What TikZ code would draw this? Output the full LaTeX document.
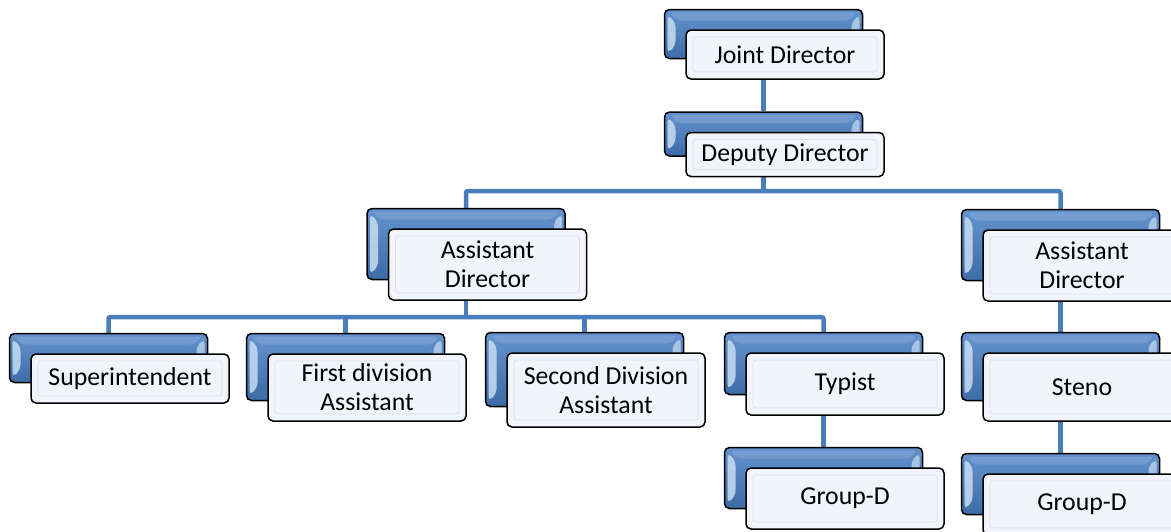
\documentclass[tikz,border=0pt]{standalone}
\usepackage{fontspec}
\setmainfont{Carlito}
\usetikzlibrary{calc}
\definecolor{linkblue}{HTML}{4A7EBB}
\definecolor{boxtop}{HTML}{6593CE}
\definecolor{boxbot}{HTML}{3C6BA6}
\definecolor{bevel}{HTML}{C9DCF2}
\definecolor{frontfill}{HTML}{F1F4FA}
\definecolor{frontline}{HTML}{DCE2EC}
\pgfdeclarelayer{bg}
\pgfdeclarelayer{lines}
\pgfsetlayers{bg,lines,main}
\tikzset{
  conn/.style={draw=linkblue, line width=4.5pt, rounded corners=2pt},
  backbox/.style={rounded corners=5pt, minimum width=198pt, line width=1.5pt,
    draw=black, top color=boxtop, bottom color=boxbot, inner sep=0pt,
    path picture={
      \fill[bevel, opacity=0.85]
        ($(path picture bounding box.north west)+(3pt,-5pt)$) --
        ($(path picture bounding box.north west)+(11pt,-13pt)$) --
        ($(path picture bounding box.south west)+(11pt,13pt)$) --
        ($(path picture bounding box.south west)+(3pt,5pt)$) -- cycle;
      \fill[bevel, opacity=0.7]
        ($(path picture bounding box.north east)+(-3pt,-5pt)$) --
        ($(path picture bounding box.north east)+(-11pt,-13pt)$) --
        ($(path picture bounding box.south east)+(-11pt,13pt)$) --
        ($(path picture bounding box.south east)+(-3pt,5pt)$) -- cycle;
      \fill[white, opacity=0.12]
        ($(path picture bounding box.north west)+(5pt,-3pt)$) --
        ($(path picture bounding box.north east)+(-5pt,-3pt)$) --
        ($(path picture bounding box.north east)+(-13pt,-11pt)$) --
        ($(path picture bounding box.north west)+(13pt,-11pt)$) -- cycle;
    }},
  frontbox/.style={rounded corners=5pt, minimum width=198pt, line width=1.5pt,
    draw=black, fill=frontfill, inner sep=0pt, align=center,
    font=\fontsize{25.8pt}{29pt}\selectfont,
    path picture={
      \draw[frontline, line width=0.8pt, rounded corners=3pt]
        ($(path picture bounding box.north west)+(7pt,-7pt)$) rectangle
        ($(path picture bounding box.south east)+(-7pt,7pt)$);
    }},
}
\newcommand\orgunit[4]{%
  \node[backbox, minimum height=#3] (#1-b) at ($#2+(-21.5,-20.5)$) {};
  \node[frontbox, minimum height=#3] (#1) at #2 {#4};
}
\begin{document}
\begin{tikzpicture}[x=1pt, y=-1pt]
  \useasboundingbox (0,0) rectangle (1171,531);
  \begin{pgfonlayer}{bg}
    \fill[white] (0,0) rectangle (1171,531);
  \end{pgfonlayer}
  \clip (0,0) rectangle (1171,531);

  \orgunit{joint}{(785,54.5)}{49pt}{Joint Director}
  \orgunit{deputy}{(785,154.5)}{44pt}{Deputy Director}
  \orgunit{adl}{(487.5,264.5)}{71pt}{Assistant\\Director}
  \orgunit{adr}{(1082,265.5)}{71pt}{Assistant\\Director}
  \orgunit{sup}{(130,378.5)}{49pt}{Superintendent}
  \orgunit{fda}{(367,387.5)}{67pt}{First division\\Assistant}
  \orgunit{sda}{(606,390)}{74pt}{Second Division\\Assistant}
  \orgunit{typ}{(845,384)}{62pt}{Typist}
  \orgunit{steno}{(1082,387)}{68pt}{Steno}
  \orgunit{gdl}{(845,498.5)}{61pt}{Group-D}
  \orgunit{gdr}{(1082,504.5)}{61pt}{Group-D}

  \coordinate (bus1) at (deputy-b.center |- 0,191);
  \coordinate (bus2) at (adl-b.center |- 0,317);

  \begin{pgfonlayer}{lines}
    \draw[conn] (joint-b.center) -- (deputy-b.north);
    \draw[conn] (deputy-b.center) -- (bus1);
    \draw[conn] (adl-b.north) |- (bus1) -| (adr-b.north);
    \draw[conn] (adl-b.center) -- (bus2);
    \draw[conn] (sup-b.north) |- (bus2) -| (typ-b.north);
    \draw[conn] (fda-b.north) -- (fda-b.north |- bus2);
    \draw[conn] (sda-b.north) -- (sda-b.north |- bus2);
    \draw[conn] (typ-b.center) -- (gdl-b.north);
    \draw[conn] (adr-b.center) -- (steno-b.north);
    \draw[conn] (steno-b.center) -- (gdr-b.north);
  \end{pgfonlayer}
\end{tikzpicture}
\end{document}
